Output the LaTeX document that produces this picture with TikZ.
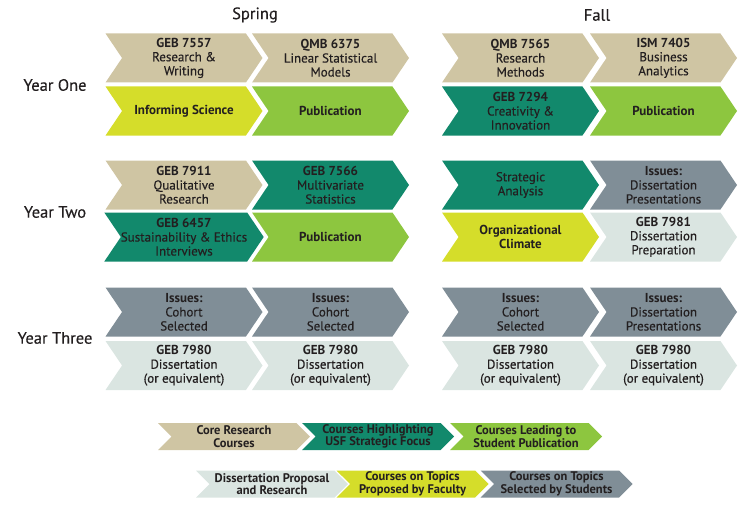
\documentclass[tikz,border=0pt]{standalone}
\usepackage{fontspec}
\setmainfont{PT Sans}
\newfontfamily\mediumsans{PT Sans}[UprightFeatures={FakeBold=0.3}]
\usetikzlibrary{shapes.symbols}
\definecolor{cTan}{RGB}{207,197,163}
\definecolor{cTeal}{RGB}{18,137,108}
\definecolor{cLime}{RGB}{141,198,63}
\definecolor{cYel}{RGB}{213,221,42}
\definecolor{cSlate}{RGB}{128,142,151}
\definecolor{cPale}{RGB}{218,229,225}
\definecolor{cInk}{RGB}{35,31,32}
\tikzset{
  ch/.style={signal,signal from=west,signal to=east,signal pointer angle=112,
    minimum width=157pt,minimum height=49pt,inner sep=0pt,align=center,
    text=cInk,font=\mediumsans\fontsize{13}{14}\selectfont},
  lg/.style={ch,signal pointer angle=90,minimum width=152pt,minimum height=27pt,
    font=\bfseries\fontsize{12.5}{12.5}\selectfont},
  tn/.style={fill=cTan}, tl/.style={fill=cTeal}, lm/.style={fill=cLime},
  yl/.style={fill=cYel}, sl/.style={fill=cSlate}, pl/.style={fill=cPale},
  hd/.style={font=\mediumsans\fontsize{16.5}{18}\selectfont,text=cInk},
}

\begin{document}
\begin{tikzpicture}[x=1pt,y=-1pt]
\useasboundingbox (0,0) rectangle (738,508);
\node[hd] (spring) at (255,15){Spring}; \node[hd] (fall) at (597,15){Fall};
\node[hd] (y1) at (55,85){Year One}; \node[hd] (y2) at (55,212){Year Two}; \node[hd] (y3) at (55,338){Year Three};
% year one
\node[ch,tn] (a1) at (184,58){\textbf{GEB 7557}\\Research \&\\Writing};
\node[ch,tn] (a2) at (330.5,58){\textbf{QMB 6375}\\Linear Statistical\\Models};
\node[ch,tn] (a3) at (520.5,58){\textbf{QMB 7565}\\Research\\Methods};
\node[ch,tn,minimum width=147pt] (a4) at (663.5,58){\textbf{ISM 7405}\\Business\\Analytics};
\node[ch,yl] (b1) at (184,111){\textbf{Informing Science}};
\node[ch,lm] (b2) at (330.5,111){\textbf{Publication}};
\node[ch,tl] (b3) at (520.5,111){\textbf{GEB 7294}\\Creativity \&\\Innovation};
\node[ch,lm,minimum width=147pt] (b4) at (663.5,111){\textbf{Publication}};
% year two
\node[ch,tn] (c1) at (184,185){\textbf{GEB 7911}\\Qualitative\\Research};
\node[ch,tl] (c2) at (330.5,185){\textbf{GEB 7566}\\Multivariate\\Statistics};
\node[ch,tl] (c3) at (520.5,185){Strategic\\Analysis};
\node[ch,sl,minimum width=147pt] (c4) at (663.5,185){\textbf{Issues:}\\Dissertation\\Presentations};
\node[ch,tl] (d1) at (184,237){\textbf{GEB 6457}\\Sustainability \& Ethics\\Interviews};
\node[ch,lm] (d2) at (330.5,237){\textbf{Publication}};
\node[ch,yl] (d3) at (520.5,237){\textbf{Organizational}\\\textbf{Climate}};
\node[ch,pl,minimum width=147pt] (d4) at (663.5,237){\textbf{GEB 7981}\\Dissertation\\Preparation};
% year three
\node[ch,sl] (e1) at (184,312){\textbf{Issues:}\\Cohort\\Selected};
\node[ch,sl] (e2) at (330.5,312){\textbf{Issues:}\\Cohort\\Selected};
\node[ch,sl] (e3) at (520.5,312){\textbf{Issues:}\\Cohort\\Selected};
\node[ch,sl,minimum width=147pt] (e4) at (663.5,312){\textbf{Issues:}\\Dissertation\\Presentations};
\node[ch,pl] (f1) at (184,365.5){\textbf{GEB 7980}\\Dissertation\\(or equivalent)};
\node[ch,pl] (f2) at (330.5,365.5){\textbf{GEB 7980}\\Dissertation\\(or equivalent)};
\node[ch,pl] (f3) at (520.5,365.5){\textbf{GEB 7980}\\Dissertation\\(or equivalent)};
\node[ch,pl,minimum width=147pt] (f4) at (663.5,365.5){\textbf{GEB 7980}\\Dissertation\\(or equivalent)};
% key
\node[lg,tn] (k1) at (234,436.5){Core Research\\Courses};
\node[lg,tl] (k2) at (378,436.5){Courses Highlighting\\USF Strategic Focus};
\node[lg,lm] (k3) at (526,436.5){Courses Leading to\\Student Publication};
\node[lg,pl] (k4) at (272,484){Dissertation Proposal\\and Research};
\node[lg,yl] (k5) at (412.5,484){Courses on Topics\\Proposed by Faculty};
\node[lg,sl] (k6) at (556.5,484){Courses on Topics\\Selected by Students};
\end{tikzpicture}
\end{document}
